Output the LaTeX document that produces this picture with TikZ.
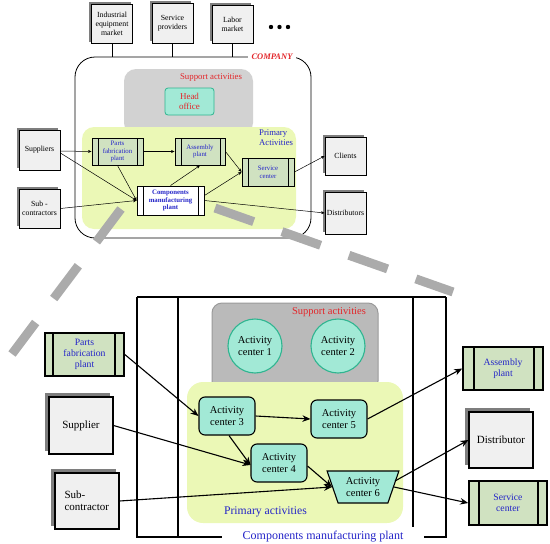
\documentclass[tikz,border=0pt]{standalone}
\usepackage{fontspec}
\setmainfont{Liberation Serif}
\usetikzlibrary{shapes.geometric,arrows.meta,calc,backgrounds}
\definecolor{boxfill}{HTML}{F0F0F0}
\definecolor{shadowgray}{HTML}{7E7E7E}
\definecolor{suptop}{HTML}{D2D2D2}
\definecolor{supbot}{HTML}{BABABA}
\definecolor{supbotdraw}{HTML}{9A9A9A}
\definecolor{yell}{HTML}{EBF8B6}
\definecolor{teal}{HTML}{A2E9D6}
\definecolor{tealdraw}{HTML}{2FB590}
\definecolor{plantg}{HTML}{D0E2C1}
\definecolor{tblue}{HTML}{2424C8}
\definecolor{tred}{HTML}{E3262A}
\definecolor{dashg}{HTML}{ABABAB}
\newcommand\fsz[1]{\fontsize{#1}{1.12\dimexpr#1pt\relax}\selectfont}
\newcommand\shadowof[2]{\fill[shadowgray] ($(#1.south west)+(-#2,-#2)$) rectangle ($(#1.north east)+(-#2,-#2)$);}
\begin{document}
\begin{tikzpicture}[x=1pt,y=-1pt,
  box/.style={draw, fill=boxfill, line width=0.8, align=center, inner sep=0pt},
  bigbox/.style={draw, fill=boxfill, line width=1.1, align=center, inner sep=0pt},
  plant/.style args={#1/#2/#3}{draw, fill=plantg, line width=#1, text=tblue, align=center, inner sep=0pt,
    path picture={\draw[line width=#1] ([xshift=#2pt]path picture bounding box.north west) -- ([xshift=#2pt]path picture bounding box.south west);
      \draw[line width=#1] ([xshift=-#3pt]path picture bounding box.north east) -- ([xshift=-#3pt]path picture bounding box.south east);}},
  acbox/.style={draw, fill=teal, line width=1.1, rounded corners=6, align=center, inner sep=0pt, minimum width=56, minimum height=38, font=\fsz{10.5}},
  accirc/.style={draw=tealdraw, fill=teal, line width=1.1, circle, align=center, inner sep=0pt, minimum size=54, font=\fsz{10.5}},
  sarr/.style={line width=0.5, -{Stealth[length=3.5pt,width=3pt]}},
  barr/.style={line width=1.1, -{Stealth[length=8pt,width=6.5pt,inset=2.5pt]}},
  frame/.style={line width=1.6},
  zoomline/.style={draw=dashg, line width=9, dash pattern=on 41pt off 30pt}
]
\useasboundingbox (0,0) rectangle (550,544);

% ---------------- top: company ----------------
\node[draw, line width=0.8, rounded corners=20, minimum width=236, minimum height=181, inner sep=0pt] (company) at (193,147.5) {};
\node[fill=suptop, rounded corners=12, minimum width=129, minimum height=66, inner sep=0pt] (supt) at (188.5,102) {};
\node[text=tred, font=\fsz{8.8}, inner sep=0pt] (supttxt) at (211,78) {Support activities};
\node[draw=tealdraw, fill=teal, line width=0.8, rounded corners=3, minimum width=49, minimum height=27, inner sep=0pt, align=center, text=tred, font=\fsz{9}] (head) at (189.5,101.5) {Head\\office};
\node[fill=yell, rounded corners=12, minimum width=214, minimum height=102, inner sep=0pt] (primt) at (189,178) {};
\node[text=tblue, font=\fsz{8.7}, align=left, anchor=west, inner sep=0pt] (primttxt) at (259,138) {Primary\\Activities};
\node[fill=white, text=tred, font=\fsz{8.5}\bfseries\itshape, inner xsep=4pt, inner ysep=1pt] (complbl) at (272,57) {COMPANY};

% markets
\node[box, minimum width=41, minimum height=39, font=\fsz{7.8}] (iem) at (112,24) {Industrial\\equipment\\market};
\node[box, minimum width=41, minimum height=40, font=\fsz{7.8}] (serv) at (172.5,23) {Service\\providers};
\node[box, minimum width=41, minimum height=38, font=\fsz{7.8}] (labor) at (232.5,24) {Labor\\market};
\draw[line width=0.8] (iem.south) -- (iem.south |- company.north);
\draw[line width=0.8] (serv.south) -- (serv.south |- company.north);
\draw[line width=0.8] (labor.south) -- (labor.south |- company.north);
\fill (271,27) circle (2.2) (279.5,27) circle (2.2) (288,27) circle (2.2);

% outside boxes
\node[box, minimum width=41, minimum height=40, font=\fsz{7.8}] (supp) at (39.5,150) {Suppliers};
\node[box, minimum width=41, minimum height=39, font=\fsz{7.8}] (subt) at (39.5,208.5) {Sub -\\contractors};
\node[box, minimum width=41, minimum height=38, font=\fsz{7.8}] (cli) at (345.5,156) {Clients};
\node[box, minimum width=41, minimum height=42, font=\fsz{7.8}] (dist) at (345.5,213) {Distributors};

% plants (top)
\node[plant=0.9/6/6, minimum width=51, minimum height=27, font=\fsz{6.8}] (pft) at (117.5,151.5) {Parts\\fabrication\\plant};
\node[plant=0.9/6/5, minimum width=50, minimum height=27, font=\fsz{6.8}] (asmt) at (200,151.5) {Assembly\\plant};
\node[plant=0.9/6/6, minimum width=52, minimum height=28, font=\fsz{6.8}] (svct) at (268,172) {Service\\center};
\node[plant=0.9/6/6, fill=white, minimum width=67, minimum height=29, font=\fsz{6.8}\bfseries] (comp) at (170.5,200.5) {Components\\manufacturing\\plant};

% top arrows
\draw[sarr] ($(supp.east)+(0,1)$) -- (pft.west);
\draw[sarr] ($(supp.east)+(0,3)$) -- (comp.west);
\draw[sarr] (pft.south) -- (comp.west);
\draw[sarr] (subt.east) -- (comp.west);
\draw[sarr] (pft.east) -- (asmt.west);
\draw[sarr] (comp.north) -- (asmt.south);
\draw[sarr] (asmt.east) -- (svct.west);
\draw[sarr] ($(comp.east)+(0,-5)$) -- (svct.west);
\draw[sarr] (svct.east) -- (cli.west);
\draw[sarr] (comp.east) -- (dist.west);

% ---------------- bottom: components manufacturing plant ----------------
\draw[frame] (137,297) -- (446,297);
\draw[frame] (137,297) -- (137,537) -- (222,537);
\draw[frame] (178,297) -- (178,537);
\draw[frame] (413,297) -- (413,527);
\draw[frame] (424,537) -- (446,537) -- (446,297);
\node[text=tblue, font=\fsz{12}, inner sep=0pt] (cmplbl) at (323,537) {Components manufacturing plant};

\node[draw=supbotdraw, fill=supbot, line width=1, rounded corners=10, minimum width=166, minimum height=88, inner sep=0pt] (supb) at (295,347) {};
\node[text=tred, font=\fsz{10.5}, inner sep=0pt] (supbtxt) at (329,312) {Support activities};
\node[accirc] (ac1) at (255,346) {Activity\\center 1};
\node[accirc] (ac2) at (338,346) {Activity\\center 2};

\node[fill=yell, rounded corners=16, minimum width=216, minimum height=141, inner sep=0pt] (primb) at (295,452.5) {};
\node[text=tblue, font=\fsz{11.7}, inner sep=0pt] (primbtxt) at (265.5,512) {Primary activities};

\node[acbox] (ac3) at (227,416) {Activity\\center 3};
\node[acbox] (ac4) at (279,463) {Activity\\center 4};
\node[acbox] (ac5) at (339,419) {Activity\\center 5};
\node[draw, fill=teal, line width=1.1, trapezium, trapezium stretches=true, shape border rotate=180,
  trapezium left angle=68, trapezium right angle=68, minimum width=72, minimum height=32,
  inner sep=0pt, align=center, font=\fsz{10.5}] (ac6) at (363,487) {Activity\\center 6};

% outside (bottom)
\node[plant=1.6/8/9, minimum width=79, minimum height=43, font=\fsz{9.7}] (pfb) at (84.5,354.5) {Parts\\fabrication\\plant};
\node[bigbox, minimum width=64, minimum height=57, font=\fsz{11}] (suppb) at (81,425.5) {Supplier};
\node[bigbox, minimum width=64, minimum height=56, font=\fsz{11}, align=left, text width=45] (subb) at (87,501) {Sub-\\contractor};
\node[plant=1.6/11/9, minimum width=80, minimum height=43, font=\fsz{9.7}] (asmb) at (503,368.5) {Assembly\\plant};
\node[bigbox, minimum width=64, minimum height=56, font=\fsz{11}] (distb) at (501,440) {Distributor};
\node[plant=1.6/10/9, minimum width=78, minimum height=44, font=\fsz{9.7}] (svcb) at (508,503) {Service\\center};

% shadows behind the outside boxes
\begin{pgfonlayer}{background}
\shadowof{iem}{2}
\shadowof{serv}{2}
\shadowof{labor}{2}
\shadowof{supp}{2}
\shadowof{subt}{2}
\shadowof{cli}{2}
\shadowof{dist}{2}
\shadowof{suppb}{3.5}
\shadowof{subb}{3.5}
\shadowof{distb}{3.5}
\end{pgfonlayer}

% bottom arrows
\draw[barr] (pfb.east) -- (ac3.west);
\draw[barr] (ac3.east) -- (ac5.west);
\draw[barr] ($(ac3.south)+(2,0)$) -- ($(ac4.west)+(0,2)$);
\draw[barr] (suppb.east) -- ($(ac4.west)+(0,2)$);
\draw[barr] (subb.east) -- (ac6.west);
\draw[barr] ($(ac4.east)+(0,3)$) -- (ac6.west);
\draw[barr] (ac5.east) -- (asmb.west);
\draw[barr] ($(ac6.east)+(1,-6)$) -- (distb.west);
\draw[barr] (ac6.east) -- (svcb.west);

% zoom indicator lines
\draw[zoomline] (121,209) -- (12,354);
\draw[zoomline] (215,208) -- (453,292);
\end{tikzpicture}
\end{document}
